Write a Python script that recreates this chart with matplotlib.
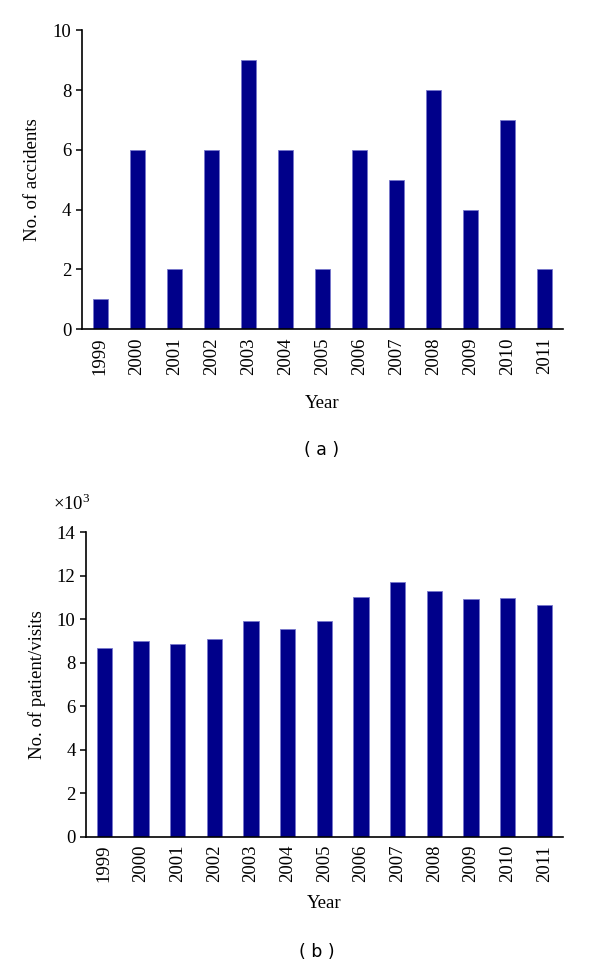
import numpy as np
import matplotlib
matplotlib.use("Agg")
import matplotlib.pyplot as plt

# ---------- data ----------
years = ["1999", "2000", "2001", "2002", "2003", "2004", "2005",
         "2006", "2007", "2008", "2009", "2010", "2011"]
accidents = [1, 6, 2, 6, 9, 6, 2, 6, 5, 8, 4, 7, 2]
visits = [8660, 9020, 8840, 9090, 9910, 9540, 9940,
          11030, 11720, 11320, 10920, 10990, 10650]   # patient/visits

plt.rcParams["font.family"] = ["Liberation Serif", "DejaVu Serif"]
plt.rcParams["mathtext.fontset"] = "custom"
plt.rcParams["mathtext.rm"] = "Liberation Serif"
bar_col = "#00008a"
edge_col = "#7777cc"
fs = 13.5

fig = plt.figure(figsize=(6, 9.67), dpi=100)
ax1 = fig.add_axes([0.136, 0.6595, 0.802, 0.3092])
ax2 = fig.add_axes([0.1433, 0.1348, 0.7945, 0.3148])

x = np.arange(len(years))


def style(ax):
    ax.spines["top"].set_visible(False)
    ax.spines["right"].set_visible(False)
    ax.spines["left"].set_linewidth(1.2)
    ax.spines["bottom"].set_linewidth(1.2)
    ax.tick_params(axis="y", direction="out", length=4.5, width=1.1,
                   labelsize=fs, pad=3)
    ax.tick_params(axis="x", length=0, labelsize=fs, pad=6)
    ax.set_xticks(x)
    ax.set_xticklabels(years, rotation=90)
    ax.set_xlim(-0.5, len(years) - 0.5)


# --- (a) accidents ---
ax1.bar(x, accidents, width=0.41, color=bar_col, edgecolor=edge_col, linewidth=0.6)
style(ax1)
ax1.set_ylim(0, 10)
ax1.set_yticks(range(0, 11, 2))
ax1.set_ylabel("No. of accidents", fontsize=fs, labelpad=8)
ax1.set_xlabel("Year", fontsize=fs, labelpad=14)

# --- (b) patient visits ---
ax2.bar(x, np.array(visits) / 1000.0, width=0.41, color=bar_col,
        edgecolor=edge_col, linewidth=0.6)
style(ax2)
ax2.set_ylim(0, 14)
ax2.set_yticks(range(0, 15, 2))
ax2.set_ylabel("No. of patient/visits", fontsize=fs, labelpad=8)
ax2.set_xlabel("Year", fontsize=fs, labelpad=9)
fig.text(53 / 600, 1 - 510 / 967, r"$\times$10$^3$", fontsize=fs)

fig.text(322 / 600, 1 - 450 / 967, "( a )", ha="center", va="center",
         fontsize=12.5, family=["DejaVu Sans"])
fig.text(317 / 600, 1 - 952 / 967, "( b )", ha="center", va="center",
         fontsize=12.5, family=["DejaVu Sans"])

fig.savefig("out.png", dpi=100)
